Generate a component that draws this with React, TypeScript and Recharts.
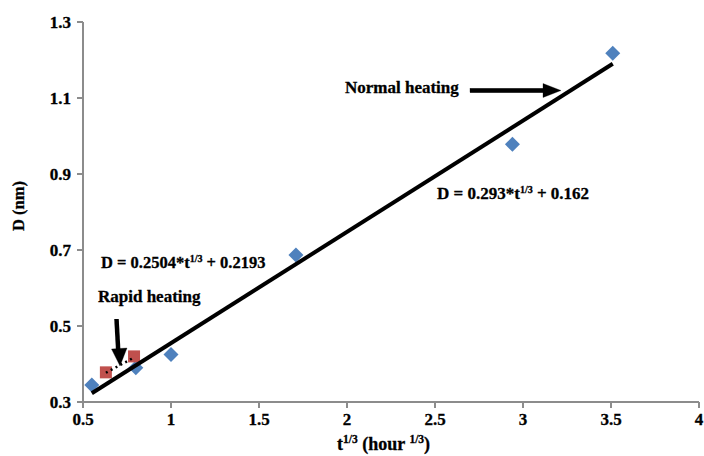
import { ScatterChart, Scatter, XAxis, YAxis } from "recharts";

// t^(1/3) (hour^(1/3)) vs D (nm)
const normalT = [0.55, 0.8, 1.0, 1.71, 2.94, 3.51];
const normalD = [0.345, 0.39, 0.425, 0.687, 0.978, 1.218];
const rapidT = [0.63, 0.79];
const rapidD = [0.378, 0.42];

// trendline end points
const normalFitT = [0.55, 3.51];
const normalFitD = [0.323, 1.19];
const rapidFitT = [0.63, 0.79];
const rapidFitD = [0.377, 0.417];

const xTicks = [0.5, 1, 1.5, 2, 2.5, 3, 3.5, 4];
const yTicks = [0.3, 0.5, 0.7, 0.9, 1.1, 1.3];

const zip = (xs: number[], ys: number[]) => xs.map((x, i) => ({ x, y: ys[i] }));

const normalData = zip(normalT, normalD);
const rapidData = zip(rapidT, rapidD);
const normalFit = zip(normalFitT, normalFitD);
const rapidFit = zip(rapidFitT, rapidFitD);

const FONT = "'Liberation Serif', 'Times New Roman', serif";
const AXIS = "#8c8c8c";

const Diamond = (props: any) => {
  const { cx, cy } = props;
  const r = 7.5;
  return <polygon points={`${cx},${cy - r} ${cx + r},${cy} ${cx},${cy + r} ${cx - r},${cy}`} fill="#4f81bd" />;
};

const Square = (props: any) => {
  const { cx, cy } = props;
  return <rect x={cx - 6} y={cy - 6} width={12} height={12} fill="#c0504d" />;
};

const NoDot = () => <g />;

const tickStyle = {
  fill: "#000", fontSize: 17, fontWeight: 700, fontFamily: FONT, stroke: "#000", strokeWidth: 0.3,
};

export default function App() {
  return (
    <div style={{ position: "absolute", left: 0, top: 0, width: 704, height: 456, background: "#fff" }}>
      <ScatterChart width={704} height={456} margin={{ top: 22, right: 5, bottom: 0, left: 0 }}>
        <XAxis
          type="number"
          dataKey="x"
          domain={[0.5, 4]}
          ticks={xTicks}
          interval={0}
          tick={tickStyle}
          tickSize={6}
          tickMargin={5}
          height={54}
          axisLine={{ stroke: AXIS, strokeWidth: 2 }}
          tickLine={{ stroke: AXIS, strokeWidth: 2 }}
        />
        <YAxis
          type="number"
          dataKey="y"
          domain={[0.3, 1.3]}
          ticks={yTicks}
          interval={0}
          tick={tickStyle}
          tickSize={6}
          tickMargin={6}
          width={83}
          axisLine={{ stroke: AXIS, strokeWidth: 2 }}
          tickLine={{ stroke: AXIS, strokeWidth: 2 }}
        />
        <Scatter name="Normal heating" data={normalData} shape={Diamond} isAnimationActive={false} />
        <Scatter name="Rapid heating" data={rapidData} shape={Square} isAnimationActive={false} />
        <Scatter
          name="Normal fit"
          data={normalFit}
          shape={NoDot}
          line={{ stroke: "#000", strokeWidth: 4 }}
          isAnimationActive={false}
        />
        <Scatter
          name="Rapid fit"
          data={rapidFit}
          shape={NoDot}
          line={{ stroke: "#000", strokeWidth: 2.5, strokeDasharray: "2 3.5" }}
          isAnimationActive={false}
        />
      </ScatterChart>
      <svg
        width={704}
        height={456}
        style={{ position: "absolute", left: 0, top: 0, pointerEvents: "none" }}
        fontFamily={FONT}
        fontWeight={700}
        stroke="#000"
        strokeWidth={0.3}
      >
        {/* axis titles */}
        <text x={23.5} y={206} transform="rotate(-90 23.5 206)" textAnchor="middle" fontSize={16.5}>
          D (nm)
        </text>
        <text x={337} y={450} fontSize={18}>
          t<tspan fontSize={11.5} dy={-7}>1/3</tspan>
          <tspan dy={7}> (hour </tspan>
          <tspan fontSize={11.5} dy={-7}>1/3</tspan>
          <tspan dy={7}>)</tspan>
        </text>

        {/* normal heating annotation */}
        <text x={345} y={93} fontSize={17}>Normal heating</text>
        <rect x={470} y={88.3} width={76} height={4.4} fill="#000" />
        <polygon points="543,83.5 561,90.5 543,97.5" fill="#000" />
        <text x={437} y={199} fontSize={17}>
          D = 0.293*t<tspan fontSize={10} dy={-6}>1/3</tspan>
          <tspan dy={6}> + 0.162</tspan>
        </text>

        {/* rapid heating annotation */}
        <text x={101} y={268} fontSize={16.5}>
          D = 0.2504*t<tspan fontSize={10} dy={-6}>1/3</tspan>
          <tspan dy={6}> + 0.2193</tspan>
        </text>
        <text x={98} y={301.5} fontSize={17}>Rapid heating</text>
        <line x1={116.5} y1={319} x2={118.3} y2={352} stroke="#000" strokeWidth={4.5} />
        <polygon points="111.5,349 127,348 120,366" fill="#000" />
      </svg>
    </div>
  );
}
